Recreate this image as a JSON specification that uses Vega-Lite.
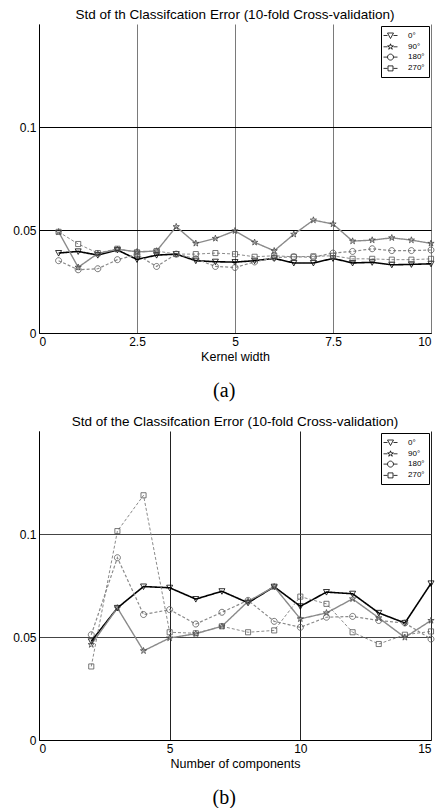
{
  "$schema": "https://vega.github.io/schema/vega-lite/v6.json",
  "background": "white",
  "padding": {"left": 12, "top": 7, "right": 0, "bottom": 0},
  "config": {
    "view": {"stroke": null},
    "font": "Liberation Sans",
    "axis": {"labelFont": "Liberation Sans", "labelFontSize": 12, "labelColor": "black", "titleFont": "Liberation Sans", "titleFontSize": 12.5, "titleFontWeight": "normal", "titleColor": "black", "domainColor": "black", "domainWidth": 1, "ticks": false, "labelPadding": 3, "titlePadding": 3, "gridWidth": 1, "gridOpacity": 1},
    "title": {"font": "Liberation Sans", "fontSize": 13.5, "fontWeight": "normal", "color": "black", "offset": 3},
    "legend": {"title": null, "orient": "top-right", "offset": 2, "labelFont": "Liberation Sans", "labelFontSize": 8, "labelColor": "black", "labelOffset": 12, "symbolSize": 100, "rowPadding": 0.3, "padding": 4, "strokeColor": "black", "fillColor": "white", "symbolStrokeColor": "black", "symbolFillColor": "transparent", "symbolStrokeWidth": 0.8, "symbolOpacity": 1},
    "concat": {"spacing": 13}
  },
  "datasets": {
    "a": [
      {"x":0.5,"s":"0°","v":0.0388},{"x":1,"s":"0°","v":0.0396},{"x":1.5,"s":"0°","v":0.0378},{"x":2,"s":"0°","v":0.0403},{"x":2.5,"s":"0°","v":0.0357},{"x":3,"s":"0°","v":0.0378},{"x":3.5,"s":"0°","v":0.0383},{"x":4,"s":"0°","v":0.0351},{"x":4.5,"s":"0°","v":0.0346},{"x":5,"s":"0°","v":0.0344},{"x":5.5,"s":"0°","v":0.0351},{"x":6,"s":"0°","v":0.0362},{"x":6.5,"s":"0°","v":0.034},{"x":7,"s":"0°","v":0.034},{"x":7.5,"s":"0°","v":0.0362},{"x":8,"s":"0°","v":0.034},{"x":8.5,"s":"0°","v":0.0343},{"x":9,"s":"0°","v":0.0331},{"x":9.5,"s":"0°","v":0.0333},{"x":10,"s":"0°","v":0.0336},
      {"x":0.5,"s":"90°","v":0.0491},{"x":1,"s":"90°","v":0.0319},{"x":1.5,"s":"90°","v":0.0386},{"x":2,"s":"90°","v":0.0406},{"x":2.5,"s":"90°","v":0.0394},{"x":3,"s":"90°","v":0.0398},{"x":3.5,"s":"90°","v":0.0516},{"x":4,"s":"90°","v":0.0435},{"x":4.5,"s":"90°","v":0.0459},{"x":5,"s":"90°","v":0.0496},{"x":5.5,"s":"90°","v":0.044},{"x":6,"s":"90°","v":0.0399},{"x":6.5,"s":"90°","v":0.0479},{"x":7,"s":"90°","v":0.0548},{"x":7.5,"s":"90°","v":0.0529},{"x":8,"s":"90°","v":0.0446},{"x":8.5,"s":"90°","v":0.0451},{"x":9,"s":"90°","v":0.0462},{"x":9.5,"s":"90°","v":0.0451},{"x":10,"s":"90°","v":0.0435},
      {"x":0.5,"s":"180°","v":0.0351},{"x":1,"s":"180°","v":0.0307},{"x":1.5,"s":"180°","v":0.0312},{"x":2,"s":"180°","v":0.0356},{"x":2.5,"s":"180°","v":0.038},{"x":3,"s":"180°","v":0.0323},{"x":3.5,"s":"180°","v":0.0383},{"x":4,"s":"180°","v":0.036},{"x":4.5,"s":"180°","v":0.0323},{"x":5,"s":"180°","v":0.0318},{"x":5.5,"s":"180°","v":0.0345},{"x":6,"s":"180°","v":0.0366},{"x":6.5,"s":"180°","v":0.037},{"x":7,"s":"180°","v":0.0368},{"x":7.5,"s":"180°","v":0.0388},{"x":8,"s":"180°","v":0.0396},{"x":8.5,"s":"180°","v":0.0409},{"x":9,"s":"180°","v":0.04},{"x":9.5,"s":"180°","v":0.04},{"x":10,"s":"180°","v":0.0403},
      {"x":0.5,"s":"270°","v":0.0491},{"x":1,"s":"270°","v":0.0432},{"x":1.5,"s":"270°","v":0.0388},{"x":2,"s":"270°","v":0.0409},{"x":2.5,"s":"270°","v":0.0392},{"x":3,"s":"270°","v":0.0398},{"x":3.5,"s":"270°","v":0.0383},{"x":4,"s":"270°","v":0.0383},{"x":4.5,"s":"270°","v":0.0388},{"x":5,"s":"270°","v":0.0383},{"x":5.5,"s":"270°","v":0.037},{"x":6,"s":"270°","v":0.0375},{"x":6.5,"s":"270°","v":0.037},{"x":7,"s":"270°","v":0.0372},{"x":7.5,"s":"270°","v":0.0375},{"x":8,"s":"270°","v":0.036},{"x":8.5,"s":"270°","v":0.036},{"x":9,"s":"270°","v":0.0356},{"x":9.5,"s":"270°","v":0.0356},{"x":10,"s":"270°","v":0.036}
    ],
    "b": [
      {"x":2,"s":"0°","v":0.0479},{"x":3,"s":"0°","v":0.0641},{"x":4,"s":"0°","v":0.0745},{"x":5,"s":"0°","v":0.0739},{"x":6,"s":"0°","v":0.0684},{"x":7,"s":"0°","v":0.0722},{"x":8,"s":"0°","v":0.0666},{"x":9,"s":"0°","v":0.0744},{"x":10,"s":"0°","v":0.0649},{"x":11,"s":"0°","v":0.0718},{"x":12,"s":"0°","v":0.071},{"x":13,"s":"0°","v":0.0617},{"x":14,"s":"0°","v":0.0568},{"x":15,"s":"0°","v":0.076},
      {"x":2,"s":"90°","v":0.0463},{"x":3,"s":"90°","v":0.0641},{"x":4,"s":"90°","v":0.0433},{"x":5,"s":"90°","v":0.0495},{"x":6,"s":"90°","v":0.0516},{"x":7,"s":"90°","v":0.0552},{"x":8,"s":"90°","v":0.0673},{"x":9,"s":"90°","v":0.0744},{"x":10,"s":"90°","v":0.0588},{"x":11,"s":"90°","v":0.0617},{"x":12,"s":"90°","v":0.0685},{"x":13,"s":"90°","v":0.0593},{"x":14,"s":"90°","v":0.0498},{"x":15,"s":"90°","v":0.058},
      {"x":2,"s":"180°","v":0.0511},{"x":3,"s":"180°","v":0.0885},{"x":4,"s":"180°","v":0.0609},{"x":5,"s":"180°","v":0.0633},{"x":6,"s":"180°","v":0.0563},{"x":7,"s":"180°","v":0.062},{"x":8,"s":"180°","v":0.0678},{"x":9,"s":"180°","v":0.0576},{"x":10,"s":"180°","v":0.0547},{"x":11,"s":"180°","v":0.0596},{"x":12,"s":"180°","v":0.06},{"x":13,"s":"180°","v":0.058},{"x":14,"s":"180°","v":0.0568},{"x":15,"s":"180°","v":0.049},
      {"x":2,"s":"270°","v":0.0357},{"x":3,"s":"270°","v":0.1014},{"x":4,"s":"270°","v":0.1188},{"x":5,"s":"270°","v":0.0523},{"x":6,"s":"270°","v":0.0518},{"x":7,"s":"270°","v":0.0552},{"x":8,"s":"270°","v":0.0523},{"x":9,"s":"270°","v":0.0532},{"x":10,"s":"270°","v":0.0696},{"x":11,"s":"270°","v":0.0661},{"x":12,"s":"270°","v":0.0523},{"x":13,"s":"270°","v":0.0466},{"x":14,"s":"270°","v":0.0511},{"x":15,"s":"270°","v":0.0527}
    ]
  },
  "vconcat": [
    {
      "title": {"text": "(a)", "orient": "bottom", "anchor": "middle", "font": "Liberation Serif", "fontSize": 20, "offset": 18},
      "vconcat": [
        {
          "width": 392, "height": 309,
          "title": {"text": "Std of th Classifcation Error (10-fold Cross-validation)", "anchor": "middle"},
          "data": {"name": "a"},
          "encoding": {
            "x": {"field": "x", "type": "quantitative", "scale": {"domain": [0, 10], "nice": false, "zero": false}, "axis": {"values": [0, 2.5, 5, 7.5, 10], "format": ".1~f", "title": "Kernel width", "gridColor": "#7a7a7a"}},
            "y": {"field": "v", "type": "quantitative", "scale": {"domain": [0, 0.15], "nice": false}, "axis": {"values": [0, 0.05, 0.1], "format": "~g", "title": null, "gridColor": "black"}}
          },
          "layer": [
            {"mark": {"type": "line"},
             "encoding": {
               "color": {"field": "s", "type": "nominal", "scale": {"domain": ["0°", "90°", "180°", "270°"], "range": ["#000000", "#8a8a8a", "#8a8a8a", "#8a8a8a"]}, "legend": null},
               "strokeDash": {"field": "s", "type": "nominal", "scale": {"domain": ["0°", "90°", "180°", "270°"], "range": [[1, 0], [1, 0], [3, 2], [3, 2]]}, "legend": null},
               "strokeWidth": {"field": "s", "type": "nominal", "scale": {"domain": ["0°", "90°", "180°", "270°"], "range": [1.6, 1, 1, 1]}, "legend": null}
             }},
            {"mark": {"type": "point", "filled": false, "size": 36, "strokeWidth": 0.8, "opacity": 1},
             "encoding": {
               "stroke": {"field": "s", "type": "nominal", "scale": {"domain": ["0°", "90°", "180°", "270°"], "range": ["#000000", "#444444", "#555555", "#555555"]}, "legend": null},
               "shape": {"field": "s", "type": "nominal", "scale": {"domain": ["0°", "90°", "180°", "270°"], "range": ["M-1,-0.85L1,-0.85L0,1Z", "M0,-1.1L0.246,-0.34L1.046,-0.34L0.4,0.13L0.646,0.89L0,0.42L-0.646,0.89L-0.4,0.13L-1.046,-0.34L-0.246,-0.34Z", "M1,0A1,1,0,1,1,-1,0A1,1,0,1,1,1,0Z", "M-0.85,-0.85L0.85,-0.85L0.85,0.85L-0.85,0.85Z"]}, "legend": null}
             }},
            {"transform": [{"filter": "false"}],
             "mark": {"type": "point", "filled": false, "color": "black", "strokeWidth": 0.8},
             "encoding": {
               "shape": {"field": "s", "type": "nominal", "scale": {"domain": ["0°", "90°", "180°", "270°"], "range": ["M-1.4,0L-0.6,0M0.6,0L1.4,0M-0.6,-0.5L0.6,-0.5L0,0.6Z", "M-1.4,0L-0.6,0M0.6,0L1.4,0M0,-0.6L0.135,-0.187L0.575,-0.187L0.22,0.072L0.355,0.49L0,0.23L-0.355,0.49L-0.22,0.072L-0.575,-0.187L-0.135,-0.187Z", "M-1.4,0L-0.6,0M0.6,0L1.4,0M0.6,0A0.6,0.6,0,1,1,-0.6,0A0.6,0.6,0,1,1,0.6,0Z", "M-1.4,0L-0.6,0M0.6,0L1.4,0M-0.5,-0.5L0.5,-0.5L0.5,0.5L-0.5,0.5Z"]}, "legend": {"symbolStrokeColor": "black", "symbolOpacity": 1}}
             }}
          ],
          "resolve": {"scale": {"shape": "independent"}}
        }
      ]
    },
    {
      "title": {"text": "(b)", "orient": "bottom", "anchor": "middle", "font": "Liberation Serif", "fontSize": 20, "offset": 18},
      "vconcat": [
        {
          "width": 392, "height": 309,
          "title": {"text": "Std of the Classifcation Error (10-fold Cross-validation)", "anchor": "middle"},
          "data": {"name": "b"},
          "encoding": {
            "x": {"field": "x", "type": "quantitative", "scale": {"domain": [0, 15], "nice": false, "zero": false}, "axis": {"values": [0, 5, 10, 15], "format": "d", "title": "Number of components", "gridColor": "#222222"}},
            "y": {"field": "v", "type": "quantitative", "scale": {"domain": [0, 0.15], "nice": false}, "axis": {"values": [0, 0.05, 0.1], "format": "~g", "title": null, "gridColor": "#444444"}}
          },
          "layer": [
            {"mark": {"type": "line"},
             "encoding": {
               "color": {"field": "s", "type": "nominal", "scale": {"domain": ["0°", "90°", "180°", "270°"], "range": ["#000000", "#8a8a8a", "#8a8a8a", "#8a8a8a"]}, "legend": null},
               "strokeDash": {"field": "s", "type": "nominal", "scale": {"domain": ["0°", "90°", "180°", "270°"], "range": [[1, 0], [1, 0], [3, 2], [3, 2]]}, "legend": null},
               "strokeWidth": {"field": "s", "type": "nominal", "scale": {"domain": ["0°", "90°", "180°", "270°"], "range": [1.6, 1, 1, 1]}, "legend": null}
             }},
            {"mark": {"type": "point", "filled": false, "size": 36, "strokeWidth": 0.8, "opacity": 1},
             "encoding": {
               "stroke": {"field": "s", "type": "nominal", "scale": {"domain": ["0°", "90°", "180°", "270°"], "range": ["#000000", "#444444", "#555555", "#555555"]}, "legend": null},
               "shape": {"field": "s", "type": "nominal", "scale": {"domain": ["0°", "90°", "180°", "270°"], "range": ["M-1,-0.85L1,-0.85L0,1Z", "M0,-1.1L0.246,-0.34L1.046,-0.34L0.4,0.13L0.646,0.89L0,0.42L-0.646,0.89L-0.4,0.13L-1.046,-0.34L-0.246,-0.34Z", "M1,0A1,1,0,1,1,-1,0A1,1,0,1,1,1,0Z", "M-0.85,-0.85L0.85,-0.85L0.85,0.85L-0.85,0.85Z"]}, "legend": null}
             }},
            {"transform": [{"filter": "false"}],
             "mark": {"type": "point", "filled": false, "color": "black", "strokeWidth": 0.8},
             "encoding": {
               "shape": {"field": "s", "type": "nominal", "scale": {"domain": ["0°", "90°", "180°", "270°"], "range": ["M-1.4,0L-0.6,0M0.6,0L1.4,0M-0.6,-0.5L0.6,-0.5L0,0.6Z", "M-1.4,0L-0.6,0M0.6,0L1.4,0M0,-0.6L0.135,-0.187L0.575,-0.187L0.22,0.072L0.355,0.49L0,0.23L-0.355,0.49L-0.22,0.072L-0.575,-0.187L-0.135,-0.187Z", "M-1.4,0L-0.6,0M0.6,0L1.4,0M0.6,0A0.6,0.6,0,1,1,-0.6,0A0.6,0.6,0,1,1,0.6,0Z", "M-1.4,0L-0.6,0M0.6,0L1.4,0M-0.5,-0.5L0.5,-0.5L0.5,0.5L-0.5,0.5Z"]}, "legend": {"symbolStrokeColor": "black", "symbolOpacity": 1}}
             }}
          ],
          "resolve": {"scale": {"shape": "independent"}}
        }
      ]
    }
  ]
}
